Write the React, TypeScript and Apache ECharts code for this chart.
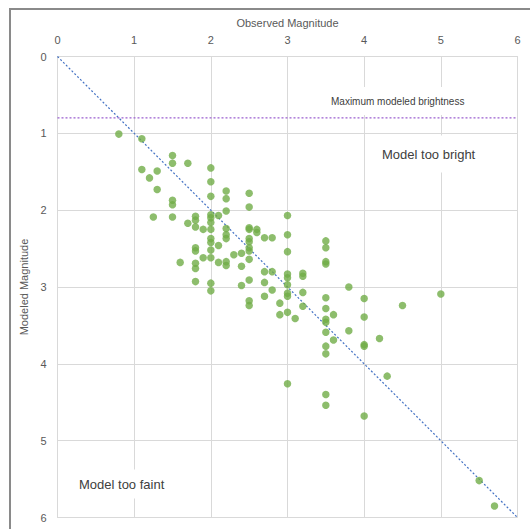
import React, { useEffect, useRef } from "react";
import * as echarts from "echarts";

// Observed magnitude (x) and modeled magnitude (y)
const observed = [
  0.8, 1.1, 1.5, 1.5, 1.7, 1.1, 1.3, 1.2, 1.3, 1.5, 1.5, 1.25, 1.5,
  2.0, 2.0, 2.0, 2.2, 2.2, 2.5, 2.5, 2.2, 2.0, 2.0, 2.0, 2.1, 1.8, 1.8,
  1.7, 1.8, 1.9, 2.0, 2.2, 2.2, 2.2, 2.5, 2.5, 2.6, 2.6, 2.7, 2.8, 2.0,
  2.0, 2.1, 2.5, 2.5, 1.8, 1.8, 2.0, 2.5, 2.5, 2.4, 2.3, 1.9, 2.0, 2.5,
  1.6, 1.8, 1.8, 2.1, 2.2, 2.2, 2.4, 2.5, 2.7, 2.8, 1.8, 2.0, 2.0, 2.4,
  2.7, 2.8, 2.7, 2.5, 2.5,
  3.0, 3.0, 3.0, 3.5, 3.5, 3.5, 3.5, 3.2, 3.2, 3.0, 3.0, 3.0, 3.0, 3.0,
  3.2, 3.8, 4.0, 3.5, 3.5, 2.9, 3.2, 3.6, 2.9, 3.0, 3.1, 3.5, 3.5, 4.0,
  3.5, 3.8, 3.6, 4.0, 4.2, 3.5, 3.5, 4.0, 5.0, 4.5, 4.3, 3.0, 3.5, 3.5,
  4.0, 5.5, 5.7,
];
const modeled = [
  1.01, 1.07, 1.29, 1.39, 1.39, 1.47, 1.49, 1.58, 1.73, 1.87, 1.93, 2.09, 2.09,
  1.45, 1.63, 1.82, 1.75, 1.85, 1.78, 1.96, 2.01, 2.06, 2.1, 2.16, 2.07, 2.08, 2.13,
  2.17, 2.22, 2.25, 2.25, 2.24, 2.32, 2.37, 2.23, 2.25, 2.25, 2.29, 2.36, 2.36, 2.37,
  2.42, 2.46, 2.37, 2.41, 2.49, 2.53, 2.52, 2.49, 2.53, 2.56, 2.58, 2.62, 2.62, 2.64,
  2.68, 2.69, 2.76, 2.68, 2.67, 2.72, 2.73, 2.91, 2.8, 2.8, 2.93, 2.95, 3.05, 2.98,
  2.94, 3.04, 3.12, 3.18, 3.24,
  2.07, 2.32, 2.54, 2.4, 2.49, 2.67, 2.7, 2.82, 2.86, 2.83, 2.88, 2.97, 3.08, 3.12,
  3.07, 3.0, 3.15, 3.14, 3.28, 3.21, 3.25, 3.36, 3.36, 3.33, 3.41, 3.42, 3.46, 3.39,
  3.59, 3.57, 3.69, 3.75, 3.67, 3.77, 3.87, 3.77, 3.09, 3.24, 4.16, 4.26, 4.4, 4.54,
  4.68, 5.52, 5.85,
];

const perfectLine = [
  [0, 0],
  [6, 6],
];
const maxBrightness = 0.8;
const axisTicks = ["0", "1", "2", "3", "4", "5", "6"];

export default function App() {
  const ref = useRef<HTMLDivElement>(null);

  useEffect(() => {
    document.body.style.margin = "0";
    const chart = echarts.init(ref.current!, undefined, { renderer: "svg" });
    const points = observed.map((x, i) => [x, modeled[i]]);
    const font = "'Liberation Sans', Arial, sans-serif";
    chart.setOption({
      animation: false,
      backgroundColor: "#ffffff",
      textStyle: { fontFamily: font },
      grid: { left: 57.5, top: 56.5, width: 460, height: 461 },
      xAxis: {
        type: "value",
        position: "top",
        min: 0,
        max: 6,
        interval: 1,
        name: "Observed Magnitude",
        nameLocation: "middle",
        nameGap: 28,
        nameTextStyle: { color: "#595959", fontSize: 11, fontFamily: font },
        axisLine: { show: true, lineStyle: { color: "#d9d9d9" } },
        axisTick: { show: false },
        axisLabel: {
          color: "#595959",
          fontSize: 11,
          margin: 11,
          formatter: (v: number) => axisTicks[Math.round(v)] ?? "",
        },
        splitLine: { show: true, lineStyle: { color: "#d9d9d9", width: 1 } },
      },
      yAxis: {
        type: "value",
        inverse: true,
        min: 0,
        max: 6,
        interval: 1,
        name: "Modeled Magnitude",
        nameLocation: "middle",
        nameGap: 21,
        nameTextStyle: { color: "#595959", fontSize: 11, fontFamily: font },
        axisLine: { show: true, lineStyle: { color: "#d9d9d9" } },
        axisTick: { show: false },
        axisLabel: {
          color: "#595959",
          fontSize: 11,
          margin: 11,
          formatter: (v: number) => axisTicks[Math.round(v)] ?? "",
        },
        splitLine: { show: true, lineStyle: { color: "#d9d9d9", width: 1 } },
      },
      series: [
        {
          type: "line",
          data: perfectLine,
          symbol: "none",
          silent: true,
          lineStyle: { color: "#4472c4", width: 1.2, type: [2, 2] },
          z: 4,
        },
        {
          type: "line",
          data: [
            [0, maxBrightness],
            [6, maxBrightness],
          ],
          symbol: "none",
          silent: true,
          lineStyle: { color: "#9b5fd0", width: 1.2, type: [2, 2] },
          z: 4,
        },
        {
          type: "scatter",
          data: points,
          symbolSize: 7.5,
          itemStyle: { color: "#70ad47" },
          z: 5,
        },
      ],
      graphic: [
        {
          type: "rect",
          z: 1,
          shape: { x: 10, y: 9, width: 560, height: 560 },
          style: { fill: "none", stroke: "#8a8a8a", lineWidth: 2 },
          silent: true,
        },
        {
          type: "text",
          z: 1,
          x: 325,
          y: 101,
          style: {
            text: "Maximum modeled brightness",
            fill: "#404040",
            font: "10px 'Liberation Sans', Arial, sans-serif",
            verticalAlign: "middle",
            backgroundColor: "#ffffff",
            padding: [9, 6, 9, 6],
          },
        },
        {
          type: "text",
          z: 1,
          x: 372,
          y: 154,
          style: {
            text: "Model too bright",
            fill: "#404040",
            font: "13px 'Liberation Sans', Arial, sans-serif",
            verticalAlign: "middle",
            backgroundColor: "#ffffff",
            padding: [12, 10, 12, 10],
          },
        },
        {
          type: "text",
          z: 1,
          x: 69,
          y: 484,
          style: {
            text: "Model too faint",
            fill: "#404040",
            font: "13px 'Liberation Sans', Arial, sans-serif",
            verticalAlign: "middle",
            backgroundColor: "#ffffff",
            padding: [8, 10, 8, 10],
          },
        },
      ],
    });
    return () => chart.dispose();
  }, []);

  return <div ref={ref} style={{ width: 530, height: 529 }} />;
}
